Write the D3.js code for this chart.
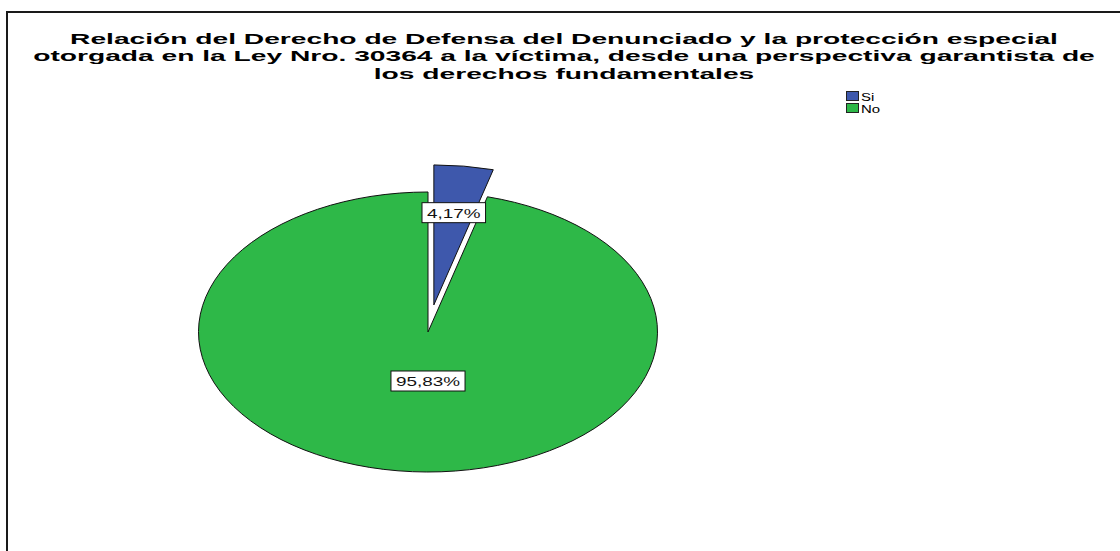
<!DOCTYPE html>
<html>
<head>
<meta charset="utf-8">
<script src="https://cdn.jsdelivr.net/npm/d3@7"></script>
<style>
  html, body { margin: 0; padding: 0; background: #fff; }
  svg { display: block; font-family: "Liberation Sans", Arial, sans-serif; }
</style>
</head>
<body>
<svg id="chart" width="1120" height="551"></svg>
<script>
// Response categories, their shares (percent) and legend colours
const categories = ["Si", "No"];
const percents = [4.17, 95.83];
const percentLabels = ["4,17%", "95,83%"];
const colors = ["#3E58AC", "#2EB848"];
const titleLines = [
  "Relación del Derecho de Defensa del Denunciado y la protección especial",
  "otorgada en la Ley Nro. 30364 a la víctima, desde una perspectiva garantista de",
  "los derechos fundamentales"
];

const svg = d3.select("#chart");
const W = 1120, H = 551;
const textStretch = 1.4;          // horizontal stretch of label and legend text

// Frame around the chart area
svg.append("rect")
  .attr("x", 7).attr("y", 12)
  .attr("width", W + 20).attr("height", H + 20)
  .attr("fill", "none")
  .attr("stroke", "#1a1a1a")
  .attr("stroke-width", 2);

// Title, centred, three lines; stretched so the widest line spans the frame
const titleG = svg.append("g");
const titleTexts = titleLines.map((line, i) =>
  titleG.append("text")
    .attr("text-anchor", "middle")
    .attr("font-size", 15.5)
    .attr("font-weight", "bold")
    .attr("fill", "#000")
    .text(line));
const widest = d3.max(titleTexts, t => t.node().getComputedTextLength());
const titleStretch = 1062 / widest;
titleTexts.forEach((t, i) =>
  t.attr("transform", `translate(564,${43.5 + i * 17.5}) scale(${titleStretch},1)`));

// Pie geometry: a circle of radius R squeezed vertically into an ellipse
const cx = 428, cy = 332;
const rx = 229.5, ry = 140;
const R = rx;
const sy = ry / rx;
const explode = 0.195;            // fraction of R that the "Si" slice is pulled out

const pie = d3.pie().sort(null).value(d => d)
  .startAngle(0).endAngle(2 * Math.PI);
const arcs = pie(percents);
const arc = d3.arc().innerRadius(0).outerRadius(R);

const toScreen = (x, y) => [cx + x, cy + y * sy];

const sliceG = svg.append("g");
arcs.forEach((a, i) => {
  const mid = (a.startAngle + a.endAngle) / 2;
  const off = i === 0 ? explode * R : 0;
  const dx = off * Math.sin(mid), dy = -off * Math.cos(mid);
  sliceG.append("path")
    .attr("d", arc(a))
    .attr("transform", `translate(${cx + dx},${cy + dy * sy}) scale(1,${sy})`)
    .attr("fill", colors[i])
    .attr("stroke", "#111")
    .attr("stroke-width", 1)
    .attr("vector-effect", "non-scaling-stroke");
});

// Percentage labels in white boxes
arcs.forEach((a, i) => {
  const span = a.endAngle - a.startAngle;
  // small slices: label at the sector's area centroid; large slices: below the apex
  const mid = span > Math.PI ? Math.PI : (a.startAngle + a.endAngle) / 2;
  const centroidDist = (2 * Math.sin(span / 2)) / (3 * span / 2);
  const dist = Math.max(centroidDist, 0.35) * R;
  const off = i === 0 ? explode * R : 0;
  const [lx, ly] = toScreen((off + dist) * Math.sin(mid), -(off + dist) * Math.cos(mid));

  const g = svg.append("g").attr("transform", `translate(${lx},${ly})`);
  const box = g.append("rect");
  const t = g.append("text")
    .attr("text-anchor", "middle")
    .attr("dy", "0.36em")
    .attr("font-size", 13.5)
    .attr("fill", "#111")
    .attr("transform", `scale(${textStretch},1)`)
    .text(percentLabels[i]);
  const w = t.node().getComputedTextLength() * textStretch + 10;
  const h = 20;
  box.attr("x", -w / 2).attr("y", -h / 2)
    .attr("width", w).attr("height", h)
    .attr("fill", "#fff")
    .attr("stroke", "#111")
    .attr("stroke-width", 1);
});

// Legend
const legend = svg.append("g").attr("transform", "translate(846,91)");
categories.forEach((c, i) => {
  const g = legend.append("g").attr("transform", `translate(0,${i * 12})`);
  g.append("rect")
    .attr("x", 0.5).attr("y", 0.5)
    .attr("width", 12).attr("height", 9)
    .attr("fill", colors[i])
    .attr("stroke", "#222")
    .attr("stroke-width", 1);
  g.append("text")
    .attr("transform", `translate(15,9.5) scale(1.3,1)`)
    .attr("font-size", 11.5)
    .attr("fill", "#000")
    .text(c);
});
</script>
</body>
</html>
